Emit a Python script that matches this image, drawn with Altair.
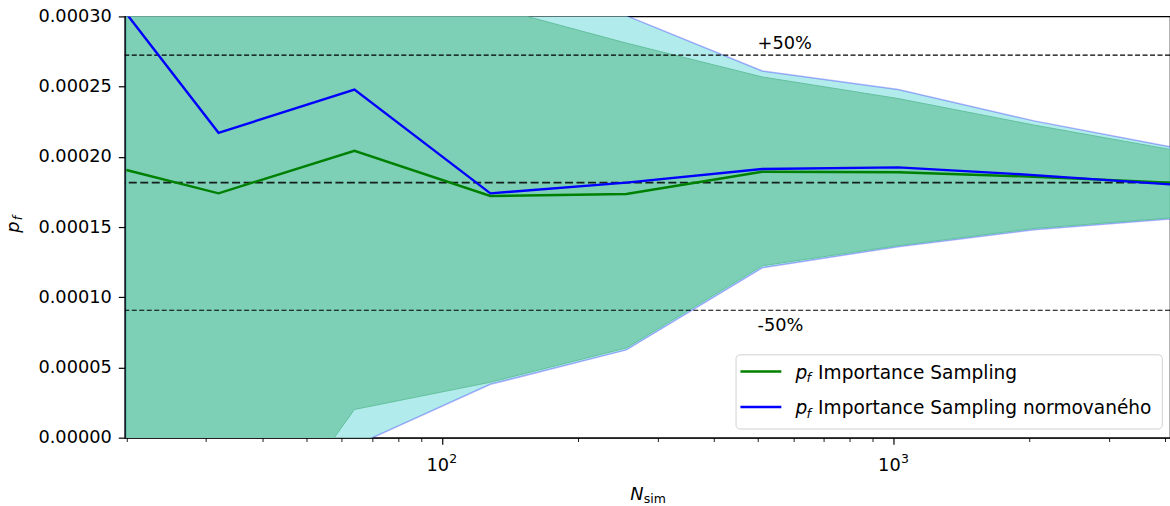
import altair as alt
import pandas as pd

# ---- data ----
N = [20, 32, 64, 128, 256, 512, 1024, 2048, 4096]
pf_is = [0.0001906, 0.0001740, 0.0002043, 0.0001721, 0.0001735, 0.0001894, 0.0001890, 0.0001858, 0.0001816]
pf_isn = [0.000302, 0.0002171, 0.0002479, 0.0001740, 0.0001816, 0.0001913, 0.0001925, 0.0001870, 0.0001804]
is_lo = [-0.00025, -0.000115, 0.0000201, 0.0000395, 0.0000639, 0.0001224, 0.0001368, 0.000149, 0.0001565]
is_hi = [0.00052, 0.00045, 0.00038, 0.000307, 0.000281, 0.0002569, 0.0002415, 0.0002226, 0.0002053]
isn_lo = [-0.00028, -0.00013, -0.0000058, 0.000038, 0.0000625, 0.000121, 0.000136, 0.000148, 0.0001558]
isn_hi = [0.0006, 0.00055, 0.00048, 0.00036, 0.0003005, 0.0002611, 0.000248, 0.0002256, 0.0002071]
p_ref = 0.0001816

x_minor = [20, 30, 40, 50, 60, 70, 80, 90, 200, 300, 400, 500, 600, 700, 800, 900, 2000, 3000, 4000]
x_major = [100, 1000]
x_major_base = ["10", "10"]
x_major_exp = ["2", "3"]
y_ticks = [0.0, 0.00005, 0.0001, 0.00015, 0.0002, 0.00025, 0.0003]

legend_labels = ["Importance Sampling", "Importance Sampling normovaného"]
legend_colors = ["#008000", "#0000ff"]

FONT = "DejaVu Sans"
FS = 17.8
FS_LEG = 18.6
SUB = 12.5
SUB_LEG = 13

df = pd.DataFrame({"N": N, "pf_is": pf_is, "pf_isn": pf_isn,
                   "is_lo": is_lo, "is_hi": is_hi, "isn_lo": isn_lo, "isn_hi": isn_hi})

xs = alt.Scale(type="log", domain=[19.84, 4096], nice=False)
ys = alt.Scale(domain=[0, 0.0003], nice=False, zero=False)

major_test = "datum.value == 100 || datum.value == 1000"
xaxis = alt.Axis(values=x_minor + x_major, labels=False, title=None, grid=False,
                 domainColor="black", domainWidth=1.2, tickColor="black",
                 tickSize={"condition": {"test": major_test, "value": 6.5}, "value": 3.8},
                 tickWidth={"condition": {"test": major_test, "value": 1.2}, "value": 0.9})
yaxis = alt.Axis(values=y_ticks, format=".5f", title=None, grid=False,
                 labelFont=FONT, labelFontSize=FS, labelColor="black", labelPadding=7,
                 tickSize=6.5, tickWidth=1.2, tickColor="black",
                 domainColor="black", domainWidth=1.2)


def X(f):
    return alt.X(f"{f}:Q", scale=xs, axis=xaxis)


def Y(f):
    return alt.Y(f"{f}:Q", scale=ys, axis=yaxis)


base = alt.Chart(df)

band_isn = base.mark_area(color="#b2ebeb", fillOpacity=1, stroke="#0000ff", strokeOpacity=0.3,
                          strokeWidth=1.5, clip=True).encode(x=X("N"), y=Y("isn_lo"), y2="isn_hi:Q")
band_is = base.mark_area(color="#7dcfb6", fillOpacity=1, stroke="#62c09d", strokeWidth=1.0,
                         clip=True).encode(x=X("N"), y=Y("is_lo"), y2="is_hi:Q")

ref_df = pd.DataFrame({"v": [p_ref * 1.5, p_ref * 0.5]})
rules_pm = alt.Chart(ref_df).mark_rule(color="black", strokeWidth=1.1, strokeDash=[5, 2.5]).encode(y=Y("v"))
rule_mid = alt.Chart(pd.DataFrame({"v": [p_ref]})).mark_rule(
    color="black", strokeWidth=1.7, strokeDash=[8, 3.5], opacity=0.85).encode(y=Y("v"))

line_is = base.mark_line(color="#008000", strokeWidth=2.4, clip=True).encode(x=X("N"), y=Y("pf_is"))
line_isn = base.mark_line(color="#0000ff", strokeWidth=2.4, clip=True).encode(x=X("N"), y=Y("pf_isn"))

ann_up = alt.Chart(pd.DataFrame({"N": [500], "v": [p_ref * 1.5], "t": ["+50%"]})).mark_text(
    font=FONT, fontSize=FS, align="left", baseline="alphabetic", dy=-6.3, color="black"
).encode(x=X("N"), y=Y("v"), text="t:N")
ann_dn = alt.Chart(pd.DataFrame({"N": [500], "v": [p_ref * 0.5], "t": ["-50%"]})).mark_text(
    font=FONT, fontSize=FS, align="left", baseline="alphabetic", dy=21, color="black"
).encode(x=X("N"), y=Y("v"), text="t:N")

# x tick labels 10^2, 10^3
tick_df = pd.DataFrame({"t": x_major, "b": x_major_base, "e": x_major_exp})
tick_base = alt.Chart(tick_df).mark_text(font=FONT, fontSize=FS, align="center", baseline="alphabetic",
                                         dx=-4.1, color="black").encode(x=X("t"), y=alt.value(455), text="b:N")
tick_exp = alt.Chart(tick_df).mark_text(font=FONT, fontSize=SUB, align="left", baseline="alphabetic",
                                        dx=7.4, color="black").encode(x=X("t"), y=alt.value(447), text="e:N")

one = pd.DataFrame({"a": [0]})


def txt(s, x, y, size=FS, style="normal", angle=0, align="left"):
    return alt.Chart(one).mark_text(text=s, font=FONT, fontSize=size, fontStyle=style, angle=angle,
                                    align=align, baseline="alphabetic", color="black").encode(
        x=alt.value(x), y=alt.value(y))


# axis titles
xt_n = txt("N", 506.3, 484, style="italic")
xt_sim = txt("sim", 519.8, 487, size=SUB)
yt_p = txt("p", -105.8, 211, style="italic", angle=270, align="center")
yt_f = txt("f", -102.5, 202, size=SUB, style="italic", angle=270, align="center")

# legend
leg_box = alt.Chart(one).mark_rect(fill="white", fillOpacity=0.8, stroke="#d0d0d0", strokeWidth=1,
                                   cornerRadius=4).encode(
    x=alt.value(612.3), x2=alt.value(1039.3), y=alt.value(339), y2=alt.value(413.3))
leg_layers = [leg_box]
row_line_y = [355.7, 391.3]
row_base_y = [363, 398.5]
for i in range(2):
    leg_layers.append(alt.Chart(one).mark_rule(color=legend_colors[i], strokeWidth=2.4).encode(
        x=alt.value(616.7), x2=alt.value(657.7), y=alt.value(row_line_y[i])))
    leg_layers.append(txt("p", 671.8, row_base_y[i], size=FS_LEG, style="italic"))
    leg_layers.append(txt("f", 682.8, row_base_y[i] + 3.5, size=SUB_LEG, style="italic"))
    leg_layers.append(txt(legend_labels[i], 694.5, row_base_y[i], size=FS_LEG))

chart = alt.layer(
    band_isn, band_is, rules_pm, rule_mid, line_is, line_isn, ann_up, ann_dn,
    tick_base, tick_exp, xt_n, xt_sim, yt_p, yt_f, *leg_layers
).properties(
    width=1047, height=422,
    padding={"left": 125, "top": 16, "right": 0, "bottom": 68},
    autosize=alt.AutoSizeParams(type="none"),
    background="white",
).configure_view(stroke="black", strokeWidth=1.2)

chart.save("out.html", embed_options={"renderer": "svg", "actions": False})
